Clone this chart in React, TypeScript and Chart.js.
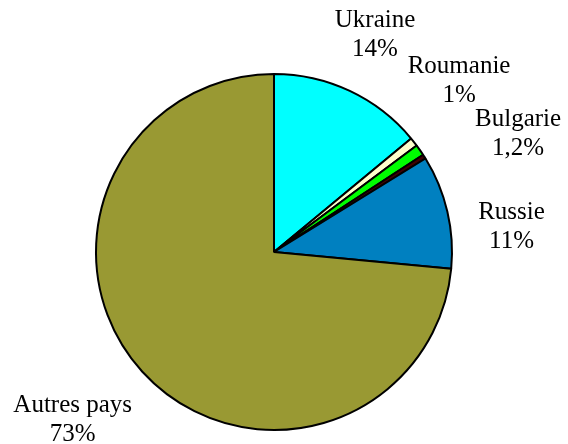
import React, { useEffect, useRef } from "react";
import { Chart, registerables } from "chart.js";

Chart.register(...registerables);

const categories = ["Ukraine", "Roumanie", "Bulgarie", "", "Russie", "Autres pays"];
const values = [14, 0.8, 1.0, 0.4, 10.3, 73.5];
const percentLabels = ["14%", "1%", "1,2%", "", "11%", "73%"];
const colors = ["#00FFFF", "#FFFFCC", "#00FF00", "#400000", "#0080C0", "#999933"];
// label placement: angle nudge (deg) from slice middle, distance as a factor of the radius
const labelAngleNudge = [-0.2, -4.6, 9.2, 0, 7, 2.5];
const labelDistance = [1.343, 1.416, 1.522, 0, 1.342, 1.472];

const labelPlugin = {
  id: "outsideLabels",
  afterDatasetsDraw(chart: any) {
    const ctx = chart.ctx;
    const meta = chart.getDatasetMeta(0);
    ctx.save();
    ctx.font = '25px "Liberation Serif", "Times New Roman", serif';
    ctx.fillStyle = "#000";
    ctx.textAlign = "center";
    ctx.textBaseline = "middle";
    meta.data.forEach((arc: any, i: number) => {
      if (!categories[i]) return;
      const { x, y, startAngle, endAngle, outerRadius } = arc.getProps(
        ["x", "y", "startAngle", "endAngle", "outerRadius"],
        true
      );
      const mid = (startAngle + endAngle) / 2 + (labelAngleNudge[i] * Math.PI) / 180;
      const d = outerRadius * labelDistance[i];
      const cx = x + Math.cos(mid) * d;
      const cy = y + Math.sin(mid) * d;
      const lh = 29;
      ctx.fillText(categories[i], cx, cy - lh / 2);
      ctx.fillText(percentLabels[i], cx, cy + lh / 2);
    });
    ctx.restore();
  },
};

export default function App() {
  const ref = useRef<HTMLCanvasElement>(null);
  useEffect(() => {
    document.body.style.margin = "0";
    const chart = new Chart(ref.current!, {
      type: "pie",
      data: {
        labels: categories,
        datasets: [
          {
            data: values,
            backgroundColor: colors,
            borderColor: "#000",
            borderWidth: 2,
          },
        ],
      },
      options: {
        responsive: false,
        animation: false,
        layout: { padding: { left: 95, right: 115, top: 73, bottom: 13 } },
        plugins: {
          legend: { display: false },
          tooltip: { enabled: false },
        },
      },
      plugins: [labelPlugin],
    });
    return () => chart.destroy();
  }, []);
  return (
    <div style={{ width: 568, height: 444, background: "#fff" }}>
      <canvas ref={ref} width={568} height={444} />
    </div>
  );
}
